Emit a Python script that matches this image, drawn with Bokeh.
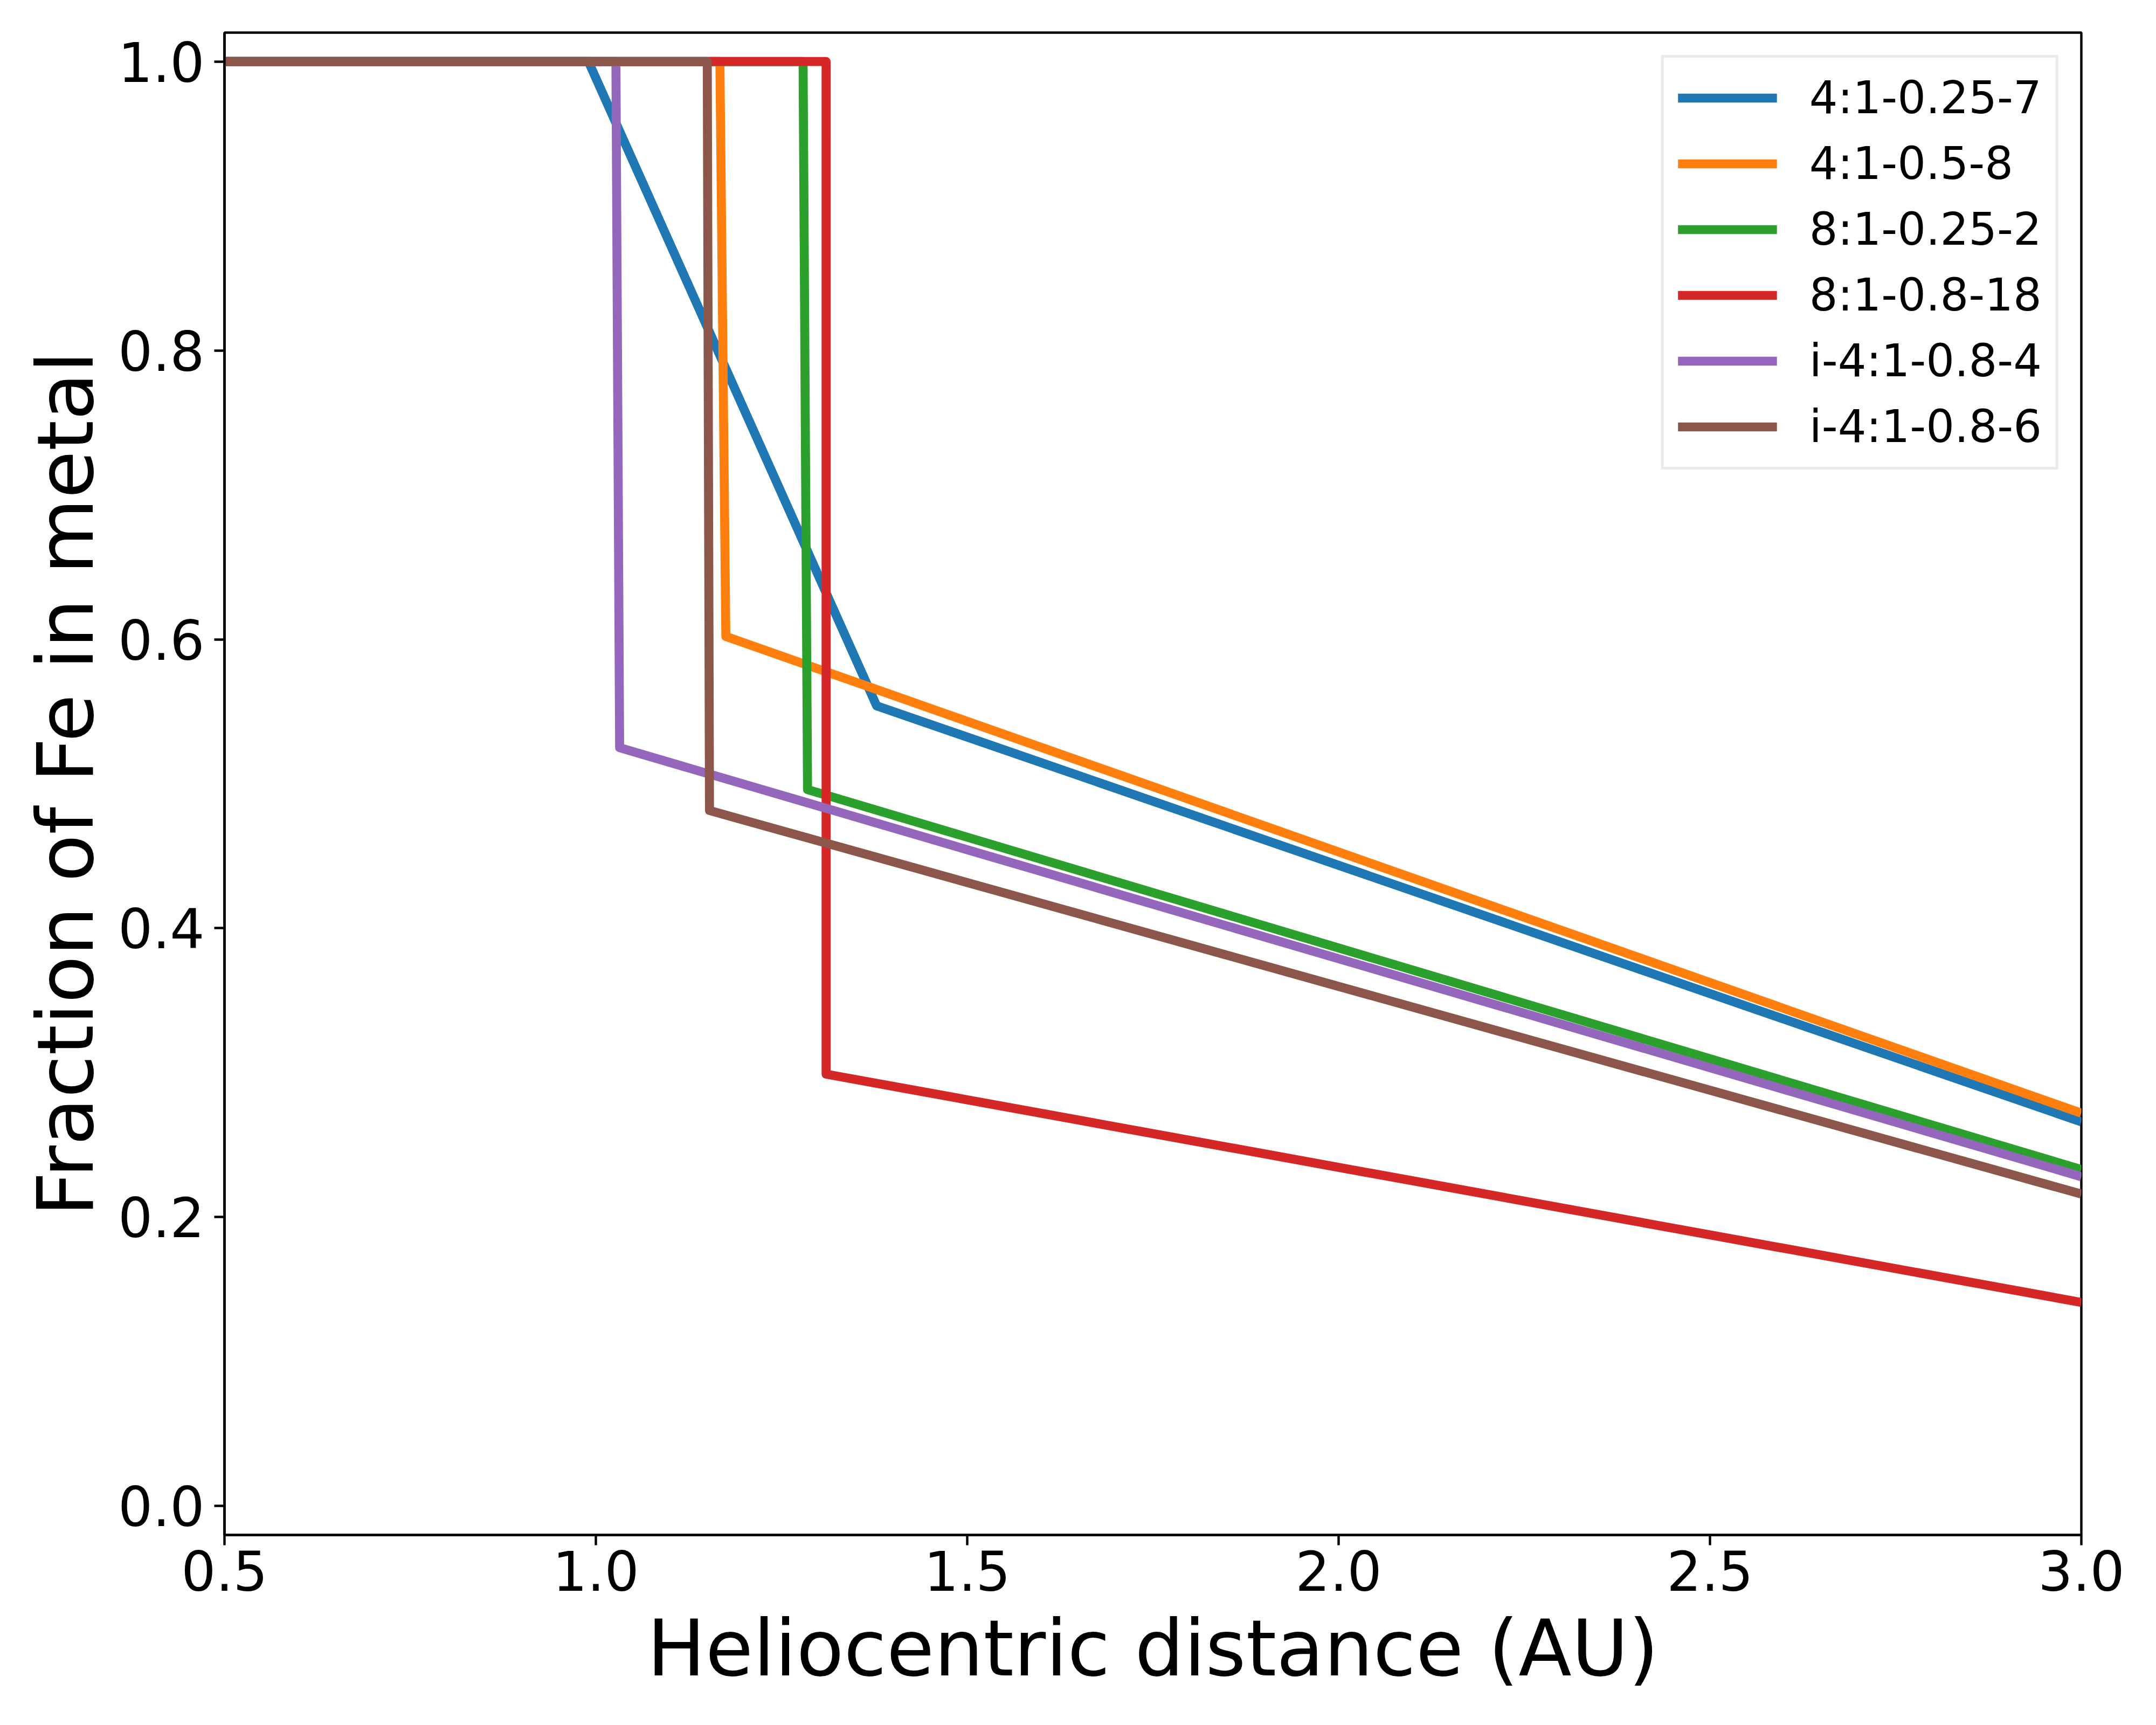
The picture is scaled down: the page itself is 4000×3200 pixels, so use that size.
from bokeh.plotting import figure
from bokeh.models import FixedTicker, PrintfTickFormatter, Legend, LegendItem, Range1d
from bokeh.embed import file_html
from bokeh.resources import INLINE

# ---- data ----
labels = ["4:1-0.25-7", "4:1-0.5-8", "8:1-0.25-2", "8:1-0.8-18", "i-4:1-0.8-4", "i-4:1-0.8-6"]

x_a = [0.5, 0.99, 1.378, 3.0]
y_a = [1.0, 1.0, 0.554, 0.266]
x_b = [0.5, 1.167, 1.175, 3.0]
y_b = [1.0, 1.0, 0.602, 0.272]
x_c = [0.5, 1.279, 1.285, 3.0]
y_c = [1.0, 1.0, 0.496, 0.233]
x_d = [0.5, 1.310, 1.310, 3.0]
y_d = [1.0, 1.0, 0.299, 0.141]
x_e = [0.5, 1.027, 1.032, 3.0]
y_e = [1.0, 1.0, 0.525, 0.228]
x_f = [0.5, 1.150, 1.153, 3.0]
y_f = [1.0, 1.0, 0.4815, 0.216]

x_ticks = [0.5, 1.0, 1.5, 2.0, 2.5, 3.0]
y_ticks = [0.0, 0.2, 0.4, 0.6, 0.8, 1.0]

xs = [x_a, x_b, x_c, x_d, x_e, x_f]
ys = [y_a, y_b, y_c, y_d, y_e, y_f]
colors = ["#1f77b4", "#ff7f0e", "#2ca02c", "#d62728", "#9467bd", "#8c564b"]

FONT = "DejaVu Sans"

p = figure(width=3984, height=3184,
           x_range=Range1d(0.5, 3.0), y_range=Range1d(-0.02, 1.02),
           output_backend="svg", toolbar_location=None,
           min_border_left=416, min_border_right=123,
           min_border_top=60, min_border_bottom=337)

p.background_fill_color = "white"
p.border_fill_color = "white"
p.grid.visible = False
p.outline_line_color = "black"
p.outline_line_width = 4.4
p.outline_line_alpha = 1.0

items = []
for xv, yv, c, lab in zip(xs, ys, colors, labels):
    r = p.line(xv, yv, line_color=c, line_width=16.7, line_join="round", line_cap="butt")
    items.append(LegendItem(label=lab, renderers=[r]))

p.xaxis.ticker = FixedTicker(ticks=x_ticks)
p.yaxis.ticker = FixedTicker(ticks=y_ticks)
p.xaxis.formatter = PrintfTickFormatter(format="%.1f")
p.yaxis.formatter = PrintfTickFormatter(format="%.1f")

p.xaxis.axis_label = "Heliocentric distance (AU)"
p.yaxis.axis_label = "Fraction of Fe in metal"

p.axis.axis_line_width = 4.4
p.axis.axis_line_color = "black"
p.axis.major_tick_line_width = 4.4
p.axis.major_tick_line_color = "black"
p.axis.major_tick_in = 0
p.axis.major_tick_out = 19
p.axis.minor_tick_line_color = None
p.axis.major_label_text_font = FONT
# 101px rather than 100px: a size of "100" can be misread as a font weight
p.axis.major_label_text_font_size = "101px"
p.axis.major_label_text_font_style = "normal"
p.axis.major_label_text_color = "black"
p.axis.axis_label_text_font = FONT
p.axis.axis_label_text_font_size = "144px"
p.axis.axis_label_text_font_style = "normal"
p.axis.axis_label_text_color = "black"

p.xaxis.major_label_standoff = 9
p.yaxis.major_label_standoff = 18
p.xaxis.axis_label_standoff = 20
p.yaxis.axis_label_standoff = 10

legend = Legend(items=items, location="top_right")
legend.margin = 42
legend.padding = 26
legend.spacing = 25
legend.glyph_width = 184
legend.glyph_height = 97
legend.label_height = 97
legend.label_standoff = 60
legend.label_text_font = FONT
legend.label_text_font_size = "83px"
legend.label_text_color = "black"
legend.border_line_color = "#d6d6d6"
legend.border_line_width = 5.5
legend.background_fill_color = "white"
legend.background_fill_alpha = 0.8
p.add_layout(legend)

open("out.html", "w").write(file_html(p, INLINE))
